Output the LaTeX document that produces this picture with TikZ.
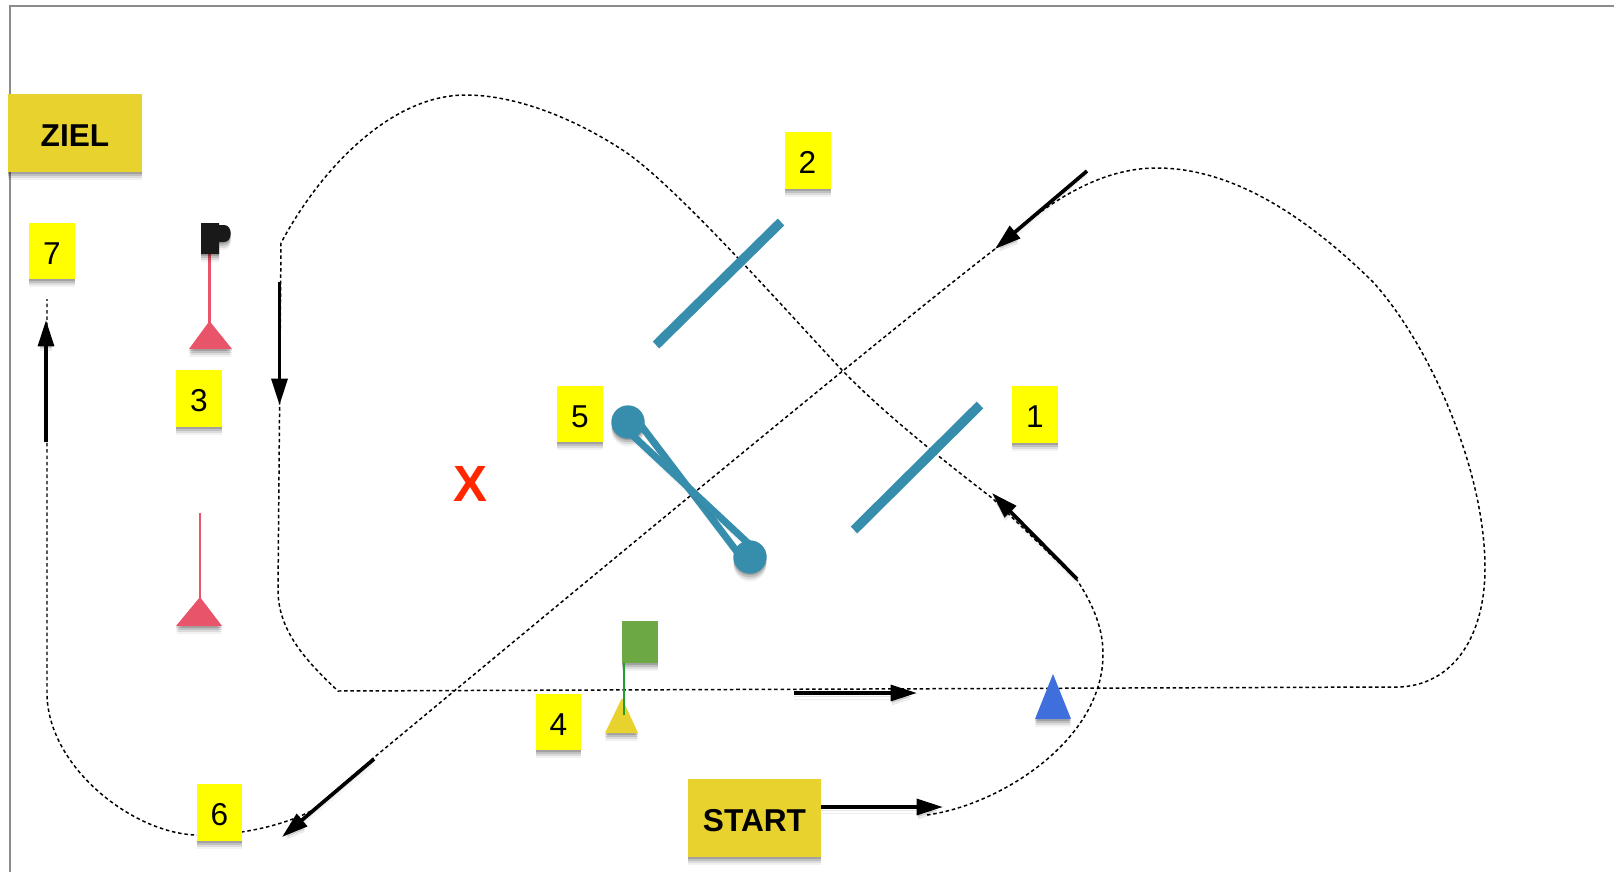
\documentclass[tikz,border=0pt]{standalone}
\usepackage{fontspec}
\setmainfont{Liberation Sans}
\usetikzlibrary{arrows.meta,shadows}
\definecolor{notiz}{RGB}{255,255,0}
\definecolor{gold}{RGB}{232,210,46}
\definecolor{teal}{RGB}{54,142,172}
\definecolor{pink}{RGB}{232,84,106}
\definecolor{moss}{RGB}{108,168,68}
\definecolor{stem}{RGB}{30,158,46}
\definecolor{blue}{RGB}{63,111,220}
\definecolor{kreuz}{RGB}{255,38,0}
\tikzset{%
  softshadow/.style={general shadow={shadow yshift=-4.6pt, opacity=.05, fill=black},
    general shadow={shadow yshift=-3.4pt, opacity=.09, fill=black},
    general shadow={shadow yshift=-2.2pt, opacity=.13, fill=black},
    general shadow={shadow yshift=-1pt, opacity=.16, fill=black}},% soft drop shadow
  linedrop/.style={preaction={draw=black, opacity=.06, transform canvas={yshift=-3.4pt}},
    preaction={draw=black, opacity=.1, transform canvas={yshift=-2pt}}},% shadow of a line
  nummer/.style={fill=notiz, softshadow, minimum width=.92cm, minimum height=1.13cm,
    inner sep=0pt, text height=14.8pt, text depth=0pt, font=\fontsize{18}{20}\selectfont},% numbered note
  tafel/.style={fill=gold, softshadow, minimum width=2.68cm, minimum height=1.56cm, outer sep=0pt,
    inner sep=0pt, text height=14.8pt, text depth=0pt, font=\fontsize{18}{20}\selectfont\bfseries},% start and finish
  route/.style={line width=.85pt, dash pattern=on 2pt off 1.6pt},% dashed course line
  pfeil/.style={linedrop, line width=2.1pt, -{Triangle[length=15pt,width=9pt]}},% direction arrow
  balken/.style={teal, line width=5.4pt, linedrop},% gate bar
  stange/.style={line width=1.3pt}% flag pole
}
\begin{document}
\begin{tikzpicture}[x=0.02cm,y=-0.02cm]
\useasboundingbox (0,0) rectangle (1614,872);
\draw[line width=1.5pt, black!45] (10,872) -- (10,6) -- (1614,6);

% course line
\draw[route] (927,815) .. controls (1000,805) and (1104,740) .. (1103,653)
  .. controls (1103,625) and (1090,600) .. (1077,580) -- (992,498)
  .. controls (940,458) and (880,410) .. (840,368)
  .. controls (790,315) and (680,190) .. (627,153)
  .. controls (575,118) and (515,95) .. (466,95)
  .. controls (390,95) and (320,170) .. (281,243)
  -- (278,590) .. controls (278,630) and (305,660) .. (338,691)
  -- (1390,687) .. controls (1450,690) and (1485,640) .. (1485,568)
  .. controls (1485,470) and (1430,345) .. (1373,282)
  .. controls (1310,220) and (1235,168) .. (1157,168)
  .. controls (1110,168) and (1060,190) .. (995,249)
  .. controls (890,330) and (600,570) .. (377,755)
  -- (313,810) .. controls (285,825) and (240,836) .. (195,835)
  .. controls (130,832) and (47,765) .. (47,693)
  -- (47,299);

% gates
\draw[balken] (656,345) -- (781,222);
\draw[balken] (854,530) -- (980,405);
\fill[teal, softshadow] (628,422) circle[radius=16.5];
\fill[teal, softshadow] (750,557) circle[radius=16.5];
\draw[teal, line width=4pt, linedrop] (640,424) -- (738,553);
\draw[teal, line width=4pt, linedrop] (630,433) -- (750,545);
\fill[teal] (628,422) circle[radius=16.5];
\fill[teal] (750,557) circle[radius=16.5];

% flag with black head
\draw[stange, pink] (209.5,254) -- (209.5,323);
\fill[pink, softshadow] (209.5,321) -- (232,349) -- (189,349) -- cycle;
\fill[black!90, softshadow] (201,223) -- (219,223) -- (219,225) -- (224,225)
  .. controls (233,225) and (233,242) .. (224,242) -- (219,242) -- (219,254) -- (201,254) -- cycle;

% second pink flag
\draw[stange, pink] (200,513) -- (200,598);
\fill[pink, softshadow] (200,597) -- (222,626) -- (176,626) -- cycle;

% green flag
\fill[gold, softshadow] (622,698) -- (638,733) -- (605,733) -- cycle;
\fill[moss, softshadow] (622,621) rectangle (658,663);
\draw[stange, stem] (624,663) -- (624,715);

% blue cone
\fill[blue, softshadow] (1053,674) -- (1071,719) -- (1035,719) -- cycle;

% notes
\node[tafel] (ziel) at (75,133) {ZIEL};
\node[tafel] (start) at (754.5,818) {START};
\node[nummer] (n1) at (1035,414.5) {1};
\node[nummer] (n2) at (807.5,160.5) {2};
\node[nummer] (n3) at (199,398.5) {3};
\node[nummer] (n4) at (558.5,722) {4};
\node[nummer] (n5) at (580,414) {5};
\node[nummer] (n6) at (219.5,812.5) {6};
\node[nummer] (n7) at (52,251) {7};
\node[text=kreuz, font=\fontsize{29}{32}\selectfont\bfseries] (mitte) at (470,484) {X};

% arrows
\coordinate (startpfeil) at (943,807);
\draw[pfeil] (start.east |- startpfeil) -- (startpfeil);
\draw[pfeil] (794,693) -- (917,693);
\draw[pfeil] (1077,579) -- (992,493);
\draw[pfeil] (1087,171) -- (995,249);
\draw[pfeil] (374,759) -- (282,837);
\draw[pfeil] (46,442) -- (46,320);
\draw[pfeil] (279.5,282) -- (279.5,405);
\end{tikzpicture}
\end{document}
